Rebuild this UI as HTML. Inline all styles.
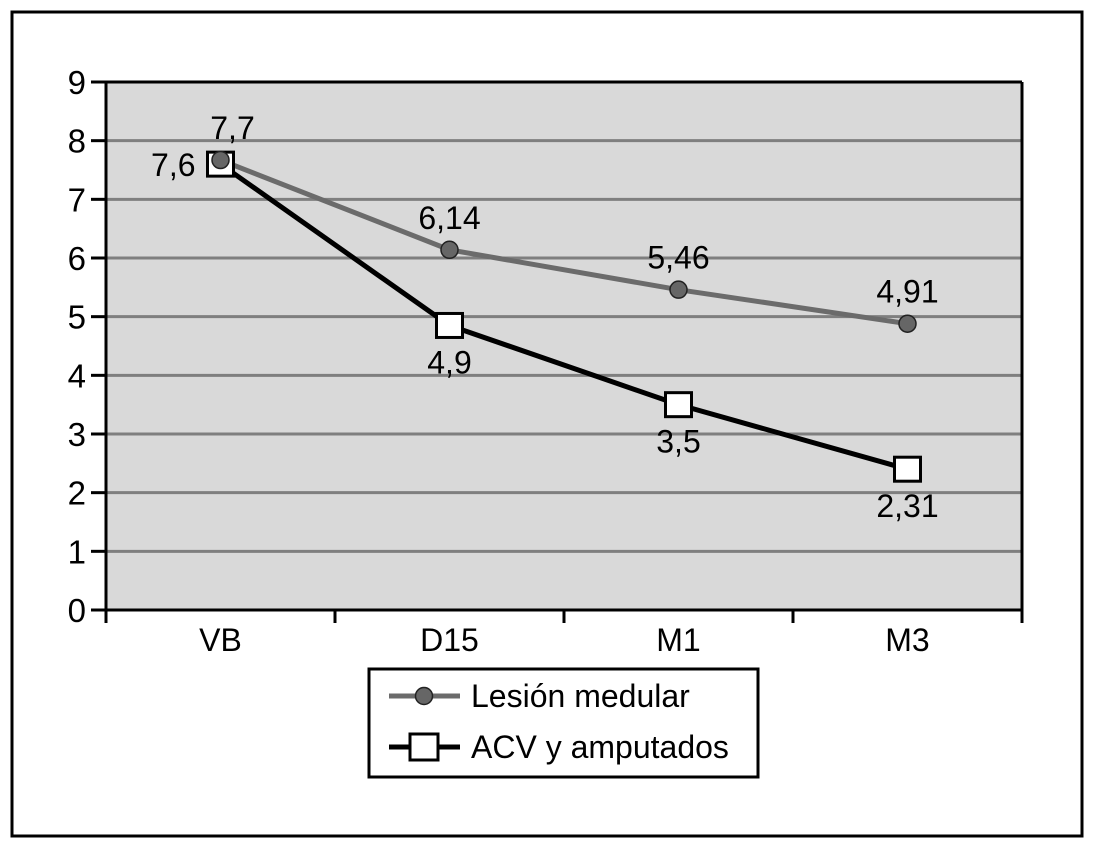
<!DOCTYPE html>
<html><head><meta charset="utf-8"><style>
html,body{margin:0;padding:0;background:#fff;}
svg{display:block;font-family:"Liberation Sans",sans-serif;}
</style></head><body>
<svg id="chart" width="1094" height="845">
<rect x="12" y="12" width="1070" height="824" fill="#fff" stroke="#000" stroke-width="3"/>
<rect x="106" y="82" width="916" height="528" fill="#d9d9d9"/>
<g id="grid"></g><g id="axes"></g><g id="series"></g>
<g>
<rect x="369" y="669" width="389" height="108" fill="#fff" stroke="#000" stroke-width="3"/>
<g>
<line x1="389" y1="696" x2="460" y2="696" stroke="#6b6b6b" stroke-width="5"/>
<circle cx="424" cy="696" r="8.5" fill="#666" stroke="#222" stroke-width="1.5"/>
<text x="471" y="707" font-size="32">Lesión medular</text></g>
<g>
<line x1="389" y1="747" x2="460" y2="747" stroke="#000" stroke-width="5"/>
<rect x="410" y="734" width="28" height="26" fill="#fff" stroke="#000" stroke-width="3"/>
<text x="471" y="758" font-size="32">ACV y amputados</text></g>
</g>
</svg>
<script>
const categories=["VB","D15","M1","M3"];
const lesionValues=[7.67,6.14,5.46,4.88];
const lesionLabels=["7,7","6,14","5,46","4,91"];
const acvValues=[7.6,4.85,3.5,2.4];
const acvLabels=["7,6","4,9","3,5","2,31"];
const yTicks=[0,1,2,3,4,5,6,7,8,9];
const NS="http://www.w3.org/2000/svg";
const L=106,R=1022,T=82,B=610,ymax=9;
const y=v=>B-(v/ymax)*(B-T);
const bw=(R-L)/categories.length;
const x=i=>L+bw*(i+0.5);
function mk(tag,attrs,parent,txt){const e=document.createElementNS(NS,tag);for(const k in attrs)e.setAttribute(k,attrs[k]);if(txt!==undefined)e.textContent=txt;parent.appendChild(e);return e;}
const grid=document.getElementById('grid'),axes=document.getElementById('axes'),ser=document.getElementById('series');
yTicks.forEach(t=>{
 if(t>0&&t<9){const g=mk('line',{x1:L,x2:R,y1:y(t),y2:y(t),stroke:'#7f7f7f','stroke-width':3},grid);
 
 }
 const tk=mk('line',{x1:L-15,x2:L,y1:y(t),y2:y(t),stroke:'#000','stroke-width':3},axes);
 
 
 const lb=mk('text',{x:L-20,y:y(t)+12,'font-size':33,'text-anchor':'end'},axes,String(t));
 
 
});
const topBorder=mk('line',{x1:L,x2:R,y1:T,y2:T,stroke:'#000','stroke-width':3},axes);


const rightBorder=mk('line',{x1:R,x2:R,y1:T,y2:B,stroke:'#000','stroke-width':3},axes);


const yAxis=mk('line',{x1:L,x2:L,y1:T-1.5,y2:B+1.5,stroke:'#000','stroke-width':3},axes);


const xAxis=mk('line',{x1:L,x2:R,y1:B,y2:B,stroke:'#000','stroke-width':3},axes);


for(let i=0;i<=categories.length;i++){const t=mk('line',{x1:L+bw*i,x2:L+bw*i,y1:B,y2:B+13,stroke:'#000','stroke-width':3},axes);
 
 }
categories.forEach((c,i)=>{const t=mk('text',{x:x(i),y:B+41,'font-size':32,'text-anchor':'middle'},axes,c);
 
 });
const p1=mk('polyline',{points:lesionValues.map((v,i)=>x(i)+','+y(v)).join(' '),fill:'none',stroke:'#6b6b6b','stroke-width':5},ser);


const p2=mk('polyline',{points:acvValues.map((v,i)=>x(i)+','+y(v)).join(' '),fill:'none',stroke:'#000','stroke-width':5},ser);


acvValues.forEach((v,i)=>{
 const r=mk('rect',{x:x(i)-13,y:y(v)-12,width:26,height:24,fill:'#fff',stroke:'#000','stroke-width':3},ser);
 
 
 const lx=i===0?x(i)-25:x(i), ly=i===0?y(v)+12:y(v)+48;
 const t=mk('text',{x:lx,y:ly,'font-size':32,'text-anchor':i===0?'end':'middle'},ser,acvLabels[i]);
 
 
});
lesionValues.forEach((v,i)=>{
 const c=mk('circle',{cx:x(i),cy:y(v),r:8.5,fill:'#666',stroke:'#222','stroke-width':1.5},ser);
 
 
 const t=mk('text',{x:x(i)+(i===0?12:0),y:y(v)-21,'font-size':32,'text-anchor':'middle'},ser,lesionLabels[i]);
 
 
});
</script>
</body></html>
